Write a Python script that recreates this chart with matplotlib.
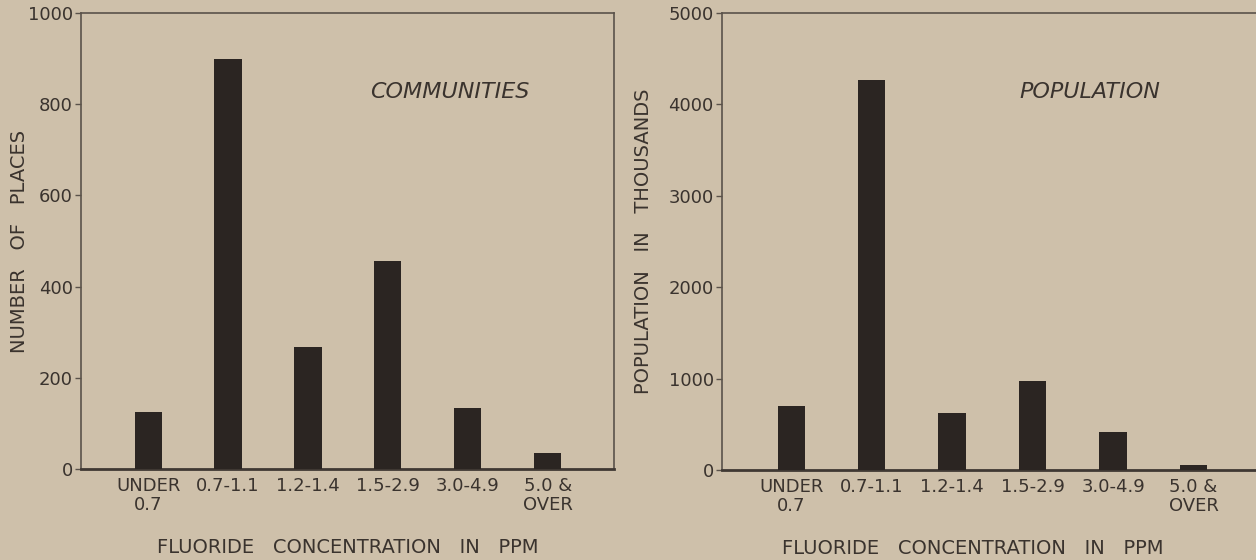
import matplotlib.pyplot as plt
import numpy as np

# fluoride concentration groups
categories = ['UNDER\n0.7', '0.7-1.1', '1.2-1.4', '1.5-2.9', '3.0-4.9', '5.0 &\nOVER']
communities = [125, 900, 267, 456, 134, 35]            # number of places
population = [700, 4270, 620, 975, 415, 50]            # thousands

paper = '#cec0aa'
ink = '#2b2522'
text_c = '#3a332e'

plt.rcParams['font.family'] = ['DejaVu Sans']

fig = plt.figure(figsize=(12.56, 5.6), dpi=100, facecolor=paper)
ax1 = fig.add_axes([81 / 1256, 91 / 560, 533 / 1256, 456 / 560])
ax2 = fig.add_axes([722 / 1256, 90 / 560, 540 / 1256, 457 / 560])

x = np.arange(len(categories))


def style(ax, values, ymax, ylabel, tag, tag_x, xlim, label_x):
    ax.set_facecolor(paper)
    ax.bar(x, values, width=0.34, color=ink, zorder=3)
    ax.set_xlim(*xlim)
    ax.set_ylim(0, ymax)
    ticks = np.linspace(0, ymax, 6)
    ax.set_yticks(ticks)
    ax.set_yticklabels([str(int(v)) for v in ticks], fontsize=13, color=text_c)
    ax.set_xticks(x)
    ax.set_xticklabels(categories, fontsize=13, color=text_c, linespacing=1.05)
    ax.tick_params(axis='x', length=0, pad=6)
    ax.tick_params(axis='y', length=4, width=1, color='#5a524a', pad=2)
    for s in ax.spines.values():
        s.set_color('#5a524a')
        s.set_linewidth(1.2)
    ax.spines['bottom'].set_linewidth(2)
    ax.spines['bottom'].set_color('#3f3833')
    ax.set_ylabel(ylabel, fontsize=14, color=text_c)
    ax.yaxis.set_label_coords(label_x, 0.5)
    ax.set_xlabel('FLUORIDE   CONCENTRATION   IN   PPM', fontsize=14,
                  color=text_c, labelpad=17)
    ax.text(tag_x, 0.827, tag, transform=ax.transAxes, ha='center', va='center',
            fontsize=16, style='italic', color=text_c)


style(ax1, communities, 1000, 'NUMBER   OF   PLACES', 'COMMUNITIES', 0.692,
      (-0.84, 5.83), -0.098)
style(ax2, population, 5000, 'POPULATION   IN   THOUSANDS', 'POPULATION', 0.681,
      (-0.86, 5.85), -0.127)
ax2.xaxis.label.set_x(0.465)

fig.savefig('out.png', dpi=100, facecolor=paper)
